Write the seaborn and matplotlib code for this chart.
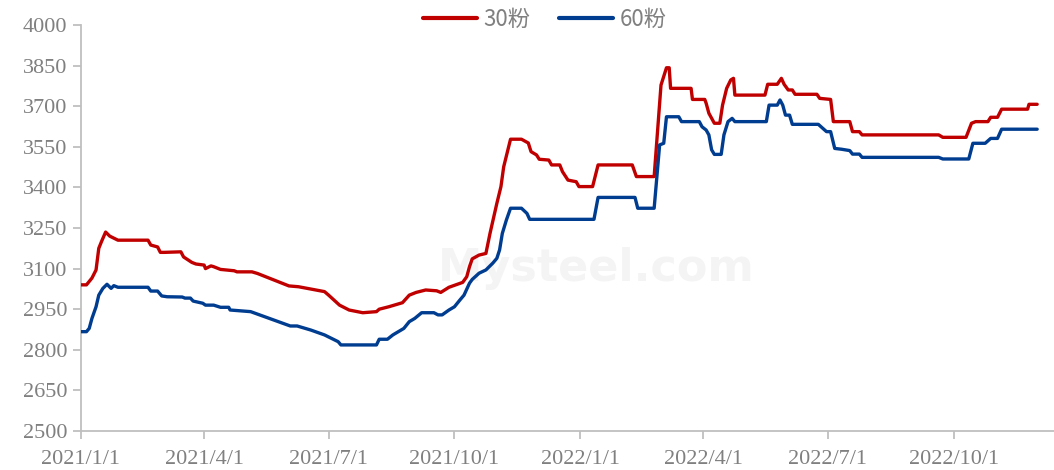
import pandas as pd
import matplotlib
matplotlib.use('Agg')
import matplotlib.pyplot as plt
import seaborn as sns

# 30粉 price series (key points)
dates_30 = ['2021-01-01', '2021-01-05', '2021-01-09', '2021-01-12', '2021-01-14', '2021-01-16',
            '2021-01-19', '2021-01-22', '2021-01-28', '2021-02-19', '2021-02-21', '2021-02-26',
            '2021-02-28', '2021-03-03', '2021-03-15', '2021-03-17', '2021-03-23', '2021-03-26',
            '2021-04-01', '2021-04-02', '2021-04-06', '2021-04-08', '2021-04-13', '2021-04-23',
            '2021-04-25', '2021-05-06', '2021-05-10', '2021-06-02', '2021-06-09', '2021-06-28',
            '2021-07-01', '2021-07-09', '2021-07-16', '2021-07-26', '2021-08-05', '2021-08-07',
            '2021-08-14', '2021-08-24', '2021-08-29', '2021-09-03', '2021-09-10', '2021-09-18',
            '2021-09-21', '2021-09-27', '2021-10-07', '2021-10-10', '2021-10-12', '2021-10-14',
            '2021-10-19', '2021-10-24', '2021-10-27', '2021-11-01', '2021-11-04', '2021-11-06',
            '2021-11-11', '2021-11-19', '2021-11-24', '2021-11-26', '2021-11-30', '2021-12-02',
            '2021-12-09', '2021-12-11', '2021-12-17', '2021-12-19', '2021-12-23', '2021-12-29',
            '2021-12-31', '2022-01-10', '2022-01-14', '2022-02-08', '2022-02-11', '2022-02-24',
            '2022-03-01', '2022-03-05', '2022-03-07', '2022-03-08', '2022-03-23', '2022-03-24',
            '2022-04-02', '2022-04-03', '2022-04-05', '2022-04-09', '2022-04-13', '2022-04-15',
            '2022-04-18', '2022-04-21', '2022-04-23', '2022-04-24', '2022-05-16', '2022-05-18',
            '2022-05-25', '2022-05-28', '2022-05-30', '2022-06-02', '2022-06-05', '2022-06-07',
            '2022-06-23', '2022-06-25', '2022-07-03', '2022-07-05', '2022-07-17', '2022-07-19',
            '2022-07-24', '2022-07-26', '2022-09-20', '2022-09-23', '2022-10-10', '2022-10-14',
            '2022-10-17', '2022-10-26', '2022-10-28', '2022-11-02', '2022-11-05', '2022-11-24',
            '2022-11-25', '2022-12-01']
values_30 = [3040, 3040, 3065, 3095, 3175, 3200,
             3235, 3220, 3205, 3205, 3187, 3180,
             3160, 3160, 3162, 3143, 3123, 3117,
             3113, 3100, 3110, 3107, 3097, 3092,
             3088, 3088, 3082, 3036, 3033, 3015,
             3002, 2965, 2947, 2937, 2941, 2950,
             2959, 2974, 3002, 3012, 3021, 3018,
             3012, 3031, 3049, 3070, 3107, 3136,
             3150, 3156, 3230, 3341, 3403, 3476,
             3578, 3578, 3564, 3532, 3520, 3504,
             3501, 3483, 3483, 3458, 3427, 3421,
             3403, 3403, 3483, 3483, 3440, 3440,
             3778, 3842, 3842, 3766, 3766, 3725,
             3725, 3711, 3674, 3637, 3637, 3704,
             3766, 3797, 3803, 3741, 3741, 3781,
             3781, 3803, 3781, 3760, 3760, 3744,
             3744, 3729, 3725, 3643, 3643, 3606,
             3606, 3594, 3594, 3585, 3585, 3637,
             3643, 3643, 3659, 3659, 3689, 3689,
             3707, 3707]

# 60粉 price series
dates_60 = ['2021-01-01', '2021-01-05', '2021-01-07', '2021-01-09', '2021-01-12', '2021-01-14',
            '2021-01-17', '2021-01-20', '2021-01-23', '2021-01-25', '2021-01-28', '2021-02-19',
            '2021-02-21', '2021-02-26', '2021-03-01', '2021-03-05', '2021-03-16', '2021-03-18',
            '2021-03-22', '2021-03-24', '2021-03-31', '2021-04-02', '2021-04-08', '2021-04-13',
            '2021-04-19', '2021-04-20', '2021-05-05', '2021-06-03', '2021-06-08', '2021-06-18',
            '2021-06-28', '2021-07-08', '2021-07-10', '2021-08-05', '2021-08-07', '2021-08-13',
            '2021-08-17', '2021-08-25', '2021-08-29', '2021-09-02', '2021-09-07', '2021-09-16',
            '2021-09-19', '2021-09-22', '2021-09-27', '2021-10-01', '2021-10-05', '2021-10-08',
            '2021-10-12', '2021-10-14', '2021-10-19', '2021-10-24', '2021-10-29', '2021-11-01',
            '2021-11-03', '2021-11-05', '2021-11-08', '2021-11-11', '2021-11-19', '2021-11-23',
            '2021-11-25', '2022-01-11', '2022-01-14', '2022-02-10', '2022-02-12', '2022-02-24',
            '2022-02-28', '2022-03-03', '2022-03-05', '2022-03-14', '2022-03-16', '2022-03-29',
            '2022-03-31', '2022-04-03', '2022-04-05', '2022-04-07', '2022-04-09', '2022-04-14',
            '2022-04-16', '2022-04-19', '2022-04-22', '2022-04-24', '2022-05-17', '2022-05-19',
            '2022-05-25', '2022-05-27', '2022-05-29', '2022-05-31', '2022-06-03', '2022-06-05',
            '2022-06-24', '2022-06-26', '2022-06-30', '2022-07-03', '2022-07-06', '2022-07-11',
            '2022-07-17', '2022-07-19', '2022-07-24', '2022-07-26', '2022-09-20', '2022-09-23',
            '2022-10-12', '2022-10-15', '2022-10-24', '2022-10-26', '2022-10-28', '2022-11-02',
            '2022-11-05', '2022-12-01']
values_60 = [2867, 2867, 2879, 2916, 2959, 3002,
             3027, 3042, 3027, 3037, 3031, 3031,
             3017, 3017, 2999, 2996, 2995, 2991,
             2991, 2980, 2972, 2965, 2965, 2957,
             2957, 2947, 2941, 2888, 2888, 2873,
             2855, 2830, 2818, 2818, 2839, 2839,
             2855, 2879, 2904, 2916, 2937, 2937,
             2929, 2929, 2947, 2959, 2984, 3002,
             3046, 3060, 3083, 3095, 3120, 3138,
             3169, 3230, 3280, 3323, 3323, 3304,
             3282, 3282, 3363, 3363, 3323, 3323,
             3557, 3563, 3661, 3661, 3643, 3643,
             3624, 3612, 3594, 3539, 3522, 3522,
             3594, 3643, 3655, 3643, 3643, 3704,
             3704, 3723, 3704, 3667, 3667, 3633,
             3633, 3624, 3606, 3606, 3544, 3541,
             3536, 3523, 3523, 3511, 3511, 3505,
             3505, 3563, 3563, 3572, 3581, 3581,
             3615, 3615]

series_names = ['30粉', '60粉']
series_colors = ['#C00000', '#003C8F']
tick_dates = ['2021-01-01', '2021-04-01', '2021-07-01', '2021-10-01',
              '2022-01-01', '2022-04-01', '2022-07-01', '2022-10-01']
y_ticks = [2500, 2650, 2800, 2950, 3100, 3250, 3400, 3550, 3700, 3850, 4000]

df = pd.concat([
    pd.DataFrame({'date': pd.to_datetime(dates_30), 'price': values_30, 'series': series_names[0]}),
    pd.DataFrame({'date': pd.to_datetime(dates_60), 'price': values_60, 'series': series_names[1]}),
])

sns.set_style('white')
plt.rcParams['font.family'] = ['Liberation Serif', 'Noto Sans CJK SC']

fig = plt.figure(figsize=(10.54, 4.70), dpi=100)
ax = fig.add_axes([81 / 1054, 1 - 431 / 470, 1 - 81 / 1054, (431 - 25) / 470])

# faint watermark behind the lines
ax.text(0.53, 0.40, 'Mysteel.com', transform=ax.transAxes, fontsize=32, fontweight='bold',
        color='#f4f4f4', family='DejaVu Sans', ha='center', va='center', zorder=0)

sns.lineplot(data=df, x='date', y='price', hue='series', hue_order=series_names,
             palette=series_colors, linewidth=2.4, ax=ax, legend=False, zorder=3)

start = pd.Timestamp('2021-01-01')
ax.set_xlim(start, start + pd.Timedelta(days=711.3))
ax.set_ylim(2500, 4000)
ax.set_yticks(y_ticks)
ticks = pd.to_datetime(tick_dates)
ax.set_xticks(ticks)
ax.set_xticklabels([f'{d.year}/{d.month}/{d.day}' for d in ticks])
ax.set_xlabel('')
ax.set_ylabel('')

grey = '#bfbfbf'
for side in ['top', 'right']:
    ax.spines[side].set_visible(False)
for side in ['left', 'bottom']:
    ax.spines[side].set_color(grey)
    ax.spines[side].set_linewidth(1.3)
ax.tick_params(axis='both', colors=grey, labelcolor='#808080', labelsize=16,
               length=6, width=1.3, direction='out', left=True, bottom=True)
ax.tick_params(axis='x', pad=8)
ax.tick_params(axis='y', pad=4)

# legend
handles = [plt.Line2D([], [], color=c, linewidth=3) for c in series_colors]
leg = fig.legend(handles, series_names, loc='upper center', bbox_to_anchor=(0.517, 1.025),
                 ncol=2, frameon=False, handlelength=2.4, columnspacing=1.3, handletextpad=0.3,
                 prop={'family': ['Noto Sans CJK SC'], 'size': 16})
for t in leg.get_texts():
    t.set_color('#808080')

fig.savefig('out.png', dpi=100)
